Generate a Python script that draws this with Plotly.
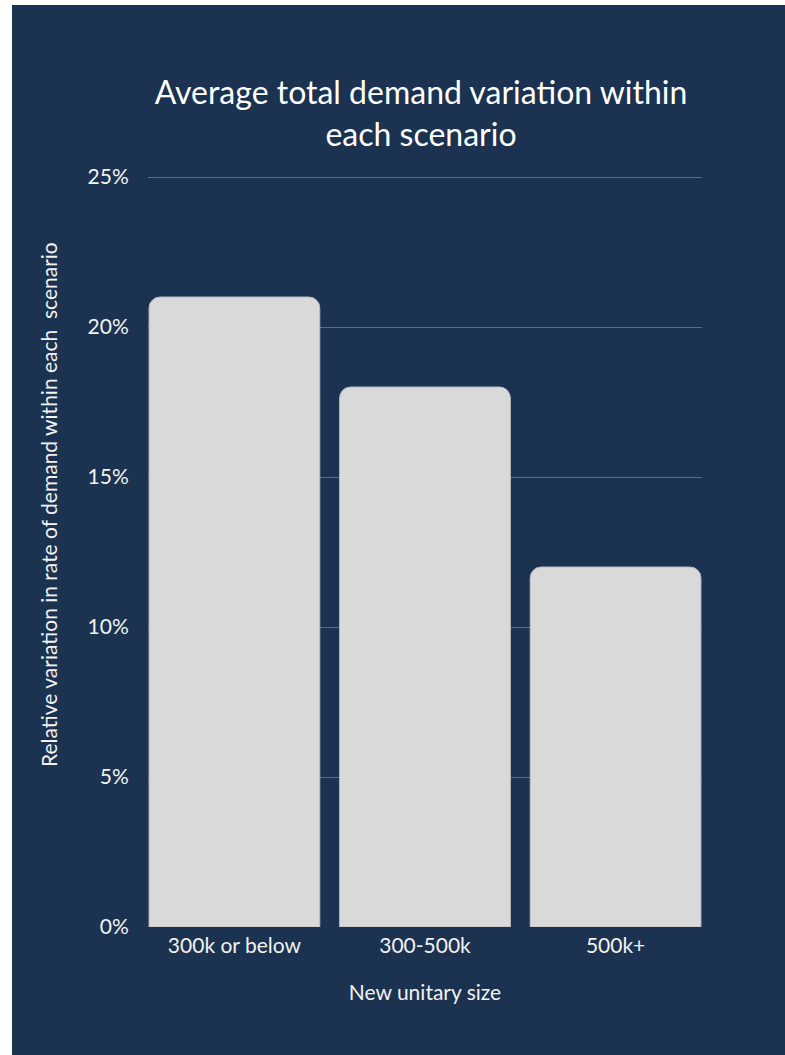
import plotly.graph_objects as go

# Scenario categories and average demand variation (%)
categories = ["300k or below", "300-500k", "500k+"]
variation_pct = [21, 18, 12]
y_ticks = [0, 5, 10, 15, 20, 25]
y_tick_labels = ["0%", "5%", "10%", "15%", "20%", "25%"]

BG = "#1b3350"
TXT = "#f2f2f2"
FONT = "Lato"

W, H = 785, 1055
L, R, T, B = 148, 83, 174, 128
pw, ph = W - L - R, H - T - B


def px_to_paper_x(px):
    return (px - L) / pw


def px_to_paper_y(py):
    return (H - B - py) / ph


fig = go.Figure(
    go.Bar(
        x=categories,
        y=variation_pct,
        marker=dict(color="#d9d9d9", line=dict(color="#b8bcc2", width=1)),
        hoverinfo="skip",
    )
)

# Dark card behind the chart, leaving a thin white edge at the left and top
fig.add_shape(
    type="rect", xref="paper", yref="paper", layer="below",
    x0=px_to_paper_x(12), x1=px_to_paper_x(W + 5),
    y0=px_to_paper_y(H + 5), y1=px_to_paper_y(5),
    fillcolor=BG, line=dict(width=0),
)

# Vertical axis title
fig.add_annotation(
    text="Relative variation in rate of demand within each  scenario",
    xref="paper", yref="paper",
    x=px_to_paper_x(48), y=px_to_paper_y(505),
    xanchor="center", yanchor="middle",
    textangle=-90, showarrow=False,
    font=dict(family=FONT, size=21, color=TXT),
)

fig.update_layout(
    width=W, height=H,
    margin=dict(l=L, r=R, t=T, b=B),
    paper_bgcolor="white",
    plot_bgcolor="rgba(0,0,0,0)",
    font=dict(family=FONT, color=TXT, size=21),
    bargap=0.104,
    barcornerradius=11,
    showlegend=False,
    title=dict(
        text="Average total demand variation within<br>each scenario",
        font=dict(family=FONT, size=32, color="white"),
        x=px_to_paper_x(421), xref="paper", xanchor="center",
        y=1 - 104 / H, yref="container", yanchor="top",
    ),
    xaxis=dict(
        title=dict(text="New unitary size", standoff=29, font=dict(size=21, color=TXT)),
        range=[-0.4535, 2.4535],
        showgrid=False, zeroline=False, showline=False,
        ticks="outside", ticklen=0, tickcolor="rgba(0,0,0,0)",
        tickfont=dict(size=21, color=TXT),
    ),
    yaxis=dict(
        range=[0, 25.1],
        tickvals=y_ticks, ticktext=y_tick_labels,
        showgrid=True, gridcolor="#56708c", gridwidth=1,
        zeroline=False, showline=False,
        ticks="outside", ticklen=14, tickcolor="rgba(0,0,0,0)",
        tickfont=dict(size=21, color=TXT),
    ),
)

fig.write_html("out.html")
